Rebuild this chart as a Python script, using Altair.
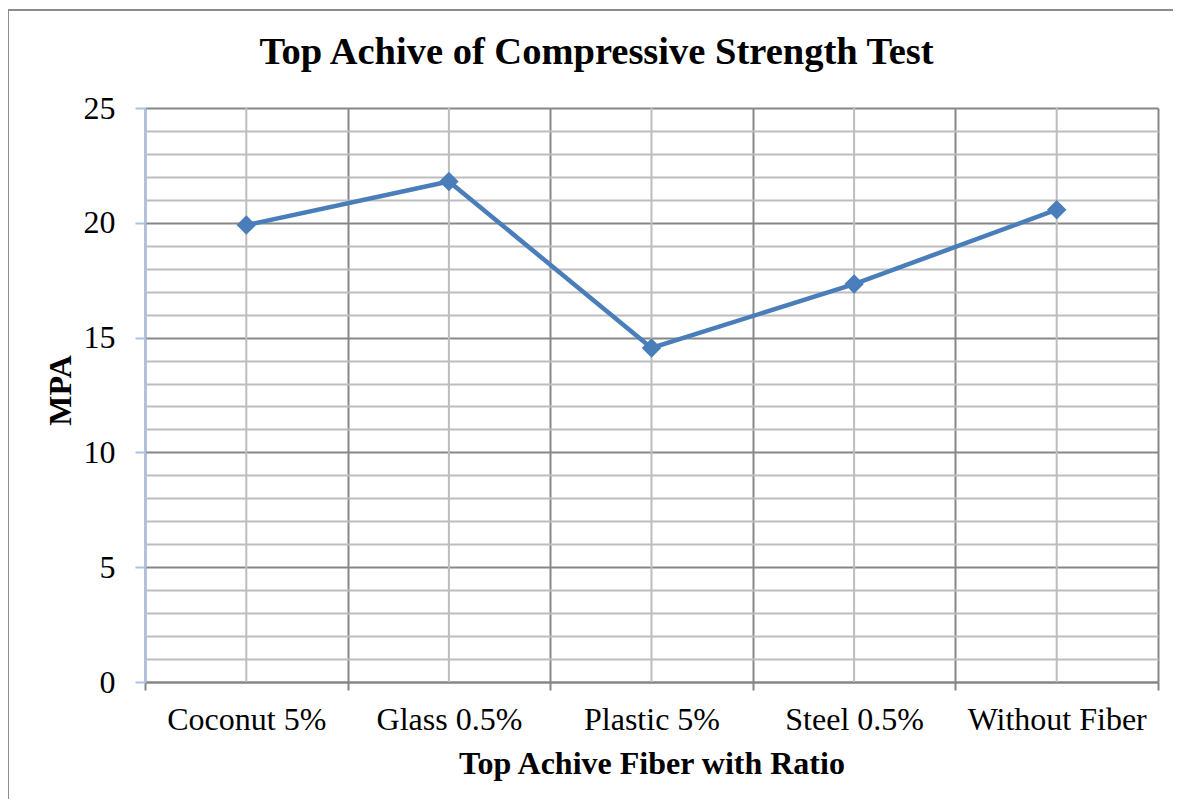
import altair as alt
import pandas as pd

fibers = ["Coconut 5%", "Glass 0.5%", "Plastic 5%", "Steel 0.5%", "Without Fiber"]
mpa = [19.9, 21.8, 14.55, 17.33, 20.57]

df = pd.DataFrame({"Fiber": fibers, "MPA": mpa})
FONT = "Liberation Serif"

xscale = alt.Scale(type="band", domain=fibers, paddingInner=0, paddingOuter=0)
yscale = alt.Scale(domain=[0, 25], nice=False)

major = "datum.value % 5 === 0"

x_axis = alt.Axis(
    title="Top Achive Fiber with Ratio",
    titleFont=FONT, titleFontSize=32, titleFontWeight="bold", titleColor="#000000",
    titleY=91, titleBaseline="alphabetic",
    labelFont=FONT, labelFontSize=32, labelColor="#000000", labelAngle=0, labelPadding=14,
    tickBand="extent", tickSize=8, tickColor="#868686", tickWidth=2,
    domainColor="#868686", domainWidth=2,
    grid=True, gridColor="#878787", gridWidth=2,
)

y_axis = alt.Axis(
    title="MPA",
    titleFont=FONT, titleFontSize=32, titleFontWeight="bold", titleColor="#000000",
    titleAngle=-90, titleX=-85, titleY=282, titleBaseline="middle", titleAlign="center",
    values=list(range(0, 26)),
    labelExpr="datum.value % 5 === 0 ? datum.label : ''",
    labelFont=FONT, labelFontSize=32, labelColor="#000000", labelPadding=20,
    tickSize=10, tickColor="#a9c1e6", tickWidth=2,
    tickOpacity={"condition": {"test": major, "value": 1}, "value": 0},
    domainColor="#a9c1e6", domainWidth=2,
    grid=True,
    gridColor={"condition": {"test": major, "value": "#878787"}, "value": "#bdbdbd"},
    gridWidth=2,
)

base = alt.Chart(df)
frame_data = alt.Data(values=[{"a": 1}])

border_top = alt.Chart(frame_data).mark_rule(color="#8c8c8c", strokeWidth=2).encode(
    x=alt.value(-137), x2=alt.value(1028), y=alt.value(-98)
)
border_left = alt.Chart(frame_data).mark_rule(color="#8c8c8c", strokeWidth=2).encode(
    x=alt.value(-137), y=alt.value(-98), y2=alt.value(691)
)

center_rules = base.mark_rule(color="#bdbdbd", strokeWidth=2).encode(
    x=alt.X("Fiber:N", scale=xscale, sort=fibers, bandPosition=0.5, axis=x_axis),
)

line = base.mark_line(
    color="#4a7ebb", strokeWidth=4.5,
    point=alt.OverlayMarkDef(shape="diamond", size=380, filled=True, color="#4a7ebb", opacity=1),
).encode(
    x=alt.X("Fiber:N", scale=xscale, sort=fibers, bandPosition=0.5, axis=x_axis),
    y=alt.Y("MPA:Q", scale=yscale, axis=y_axis),
)

chart = alt.layer(border_top, border_left, center_rules, line).properties(
    width=1013, height=574,
    autosize=alt.AutoSizeParams(type="none"),
    padding={"left": 137, "top": 100, "right": 15, "bottom": 117},
    title=alt.TitleParams(
        text="Top Achive of Compressive Strength Test",
        font=FONT, fontSize=38.5, fontWeight="bold", color="#000000",
        anchor="middle", frame="group", dx=-55, offset=-93, baseline="alphabetic",
    ),
).configure_view(stroke="transparent")

chart.save("out.html", embed_options={"renderer": "svg", "actions": False})
